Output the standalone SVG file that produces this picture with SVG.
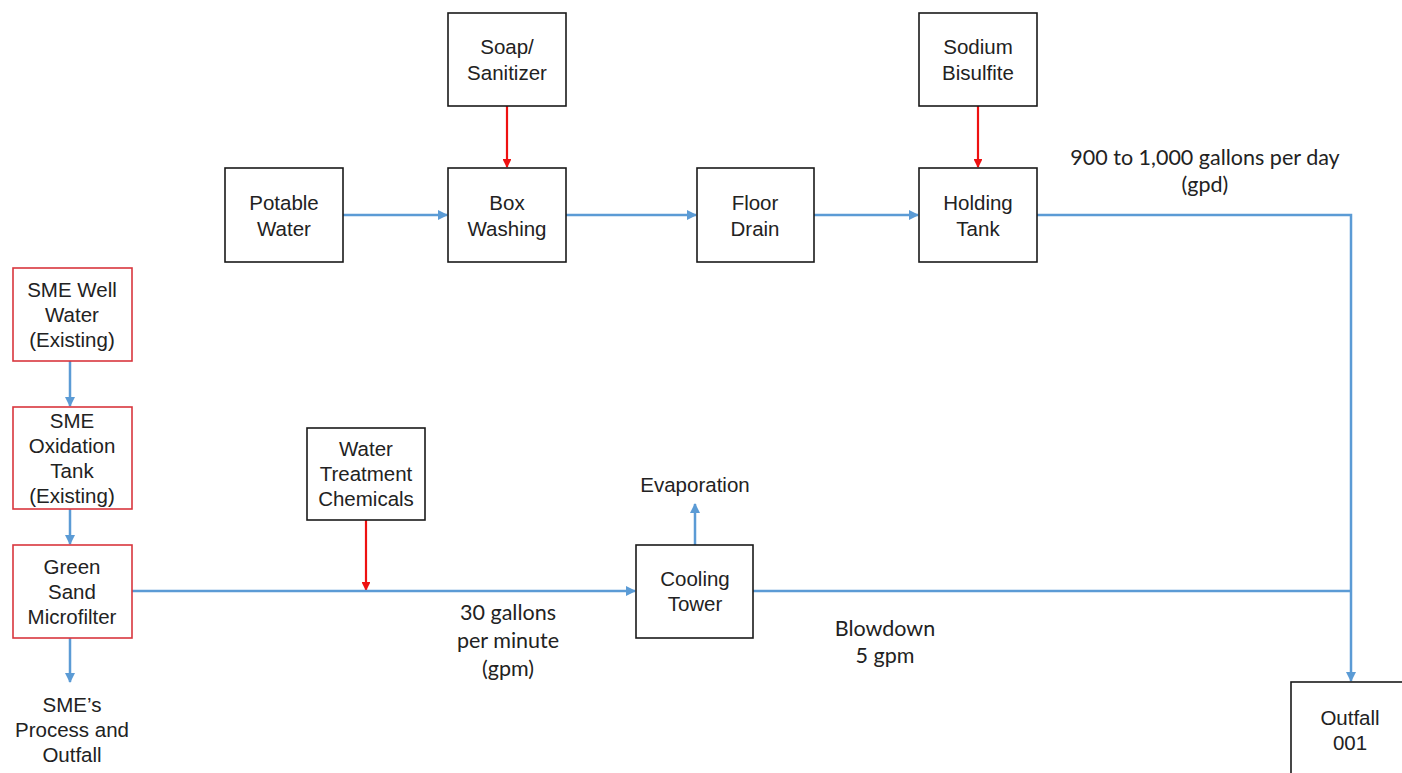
<svg xmlns="http://www.w3.org/2000/svg" width="1402" height="773" viewBox="0 0 1402 773">
<defs>
<style>
.box{fill:#fff;stroke:#1a1a1a;stroke-width:1.6}
.rbox{fill:#fff;stroke:#d9363e;stroke-width:1.6}
.t{font-family:"Liberation Sans",Arial,sans-serif;font-size:20.5px;fill:#222;text-anchor:middle}
.l{font-family:Lato,"Noto Sans",sans-serif;font-size:21.5px;fill:#222;text-anchor:middle}
.b{fill:none;stroke:#5b9bd5;stroke-width:2.5}
.r{fill:none;stroke:#ee1111;stroke-width:2.2}
</style>
<marker id="ab" viewBox="0 0 10 10" refX="9" refY="5" markerWidth="4" markerHeight="4" orient="auto" markerUnits="strokeWidth"><path d="M0,0L10,5L0,10z" fill="#5b9bd5"/></marker>
<marker id="ar" viewBox="0 0 10 10" refX="9" refY="5" markerWidth="4" markerHeight="4" orient="auto" markerUnits="strokeWidth"><path d="M0,0L10,5L0,10z" fill="#ee1111"/></marker>
</defs>
<rect width="1402" height="773" fill="#fff"/>
<g id="connectors">
<line class="r" x1="507" y1="106" x2="507" y2="167" marker-end="url(#ar)"/>
<line class="r" x1="978" y1="106" x2="978" y2="167" marker-end="url(#ar)"/>
<line class="r" x1="366" y1="520" x2="366" y2="590" marker-end="url(#ar)"/>
<line class="b" x1="343" y1="215" x2="447" y2="215" marker-end="url(#ab)"/>
<line class="b" x1="566" y1="215" x2="696" y2="215" marker-end="url(#ab)"/>
<line class="b" x1="814" y1="215" x2="918" y2="215" marker-end="url(#ab)"/>
<polyline class="b" points="1037,215 1351,215 1351,681" marker-end="url(#ab)"/>
<line class="b" x1="70" y1="361" x2="70" y2="406" marker-end="url(#ab)"/>
<line class="b" x1="70" y1="509" x2="70" y2="544" marker-end="url(#ab)"/>
<line class="b" x1="70" y1="638" x2="70" y2="682" marker-end="url(#ab)"/>
<line class="b" x1="132" y1="591" x2="635" y2="591" marker-end="url(#ab)"/>
<line class="b" x1="753" y1="591" x2="1351" y2="591"/>
<line class="b" x1="695" y1="545" x2="695" y2="504" marker-end="url(#ab)"/>
<text class="l" x="1205" y="165">900 to 1,000 gallons per day</text>
<text class="l" x="1205" y="192">(gpd)</text>
<text class="l" x="508" y="620">30 gallons</text>
<text class="l" x="508" y="648">per minute</text>
<text class="l" x="508" y="676">(gpm)</text>
<text class="l" x="885" y="636">Blowdown</text>
<text class="l" x="885" y="663">5 gpm</text>
<text class="t" x="695" y="492">Evaporation</text>
</g>
<g id="soap"><rect class="box" x="448" y="13" width="118" height="93"/><text class="t" x="507" y="54">Soap/</text><text class="t" x="507" y="80">Sanitizer</text></g>
<g id="potable"><rect class="box" x="225" y="168" width="118" height="94"/><text class="t" x="284" y="210">Potable</text><text class="t" x="284" y="236">Water</text></g>
<g id="boxwashing"><rect class="box" x="448" y="168" width="118" height="94"/><text class="t" x="507" y="210">Box</text><text class="t" x="507" y="236">Washing</text></g>
<g id="floordrain"><rect class="box" x="697" y="168" width="117" height="94"/><text class="t" x="755" y="210">Floor</text><text class="t" x="755" y="236">Drain</text></g>
<g id="bisulfite"><rect class="box" x="919" y="13" width="118" height="93"/><text class="t" x="978" y="54">Sodium</text><text class="t" x="978" y="80">Bisulfite</text></g>
<g id="holding"><rect class="box" x="919" y="168" width="118" height="94"/><text class="t" x="978" y="210">Holding</text><text class="t" x="978" y="236">Tank</text></g>
<g id="wellwater"><rect class="rbox" x="13" y="268" width="119" height="93"/><text class="t" x="72" y="297">SME Well</text><text class="t" x="72" y="322">Water</text><text class="t" x="72" y="347">(Existing)</text></g>
<g id="oxidation"><rect class="rbox" x="13" y="407" width="119" height="102"/><text class="t" x="72" y="428">SME</text><text class="t" x="72" y="453">Oxidation</text><text class="t" x="72" y="478">Tank</text><text class="t" x="72" y="503">(Existing)</text></g>
<g id="greensand"><rect class="rbox" x="13" y="545" width="119" height="93"/><text class="t" x="72" y="574">Green</text><text class="t" x="72" y="599">Sand</text><text class="t" x="72" y="624">Microfilter</text></g>
<g id="smeprocess"><text class="t" x="72" y="712">SME’s</text><text class="t" x="72" y="737">Process and</text><text class="t" x="72" y="762">Outfall</text></g>
<g id="chemicals"><rect class="box" x="307" y="428" width="118" height="92"/><text class="t" x="366" y="456">Water</text><text class="t" x="366" y="481">Treatment</text><text class="t" x="366" y="506">Chemicals</text></g>
<g id="cooling"><rect class="box" x="636" y="545" width="117" height="93"/><text class="t" x="695" y="586">Cooling</text><text class="t" x="695" y="611">Tower</text></g>
<g id="outfall"><rect class="box" x="1291" y="682" width="130" height="100"/><text class="t" x="1350" y="725">Outfall</text><text class="t" x="1350" y="750">001</text></g>
</svg>
